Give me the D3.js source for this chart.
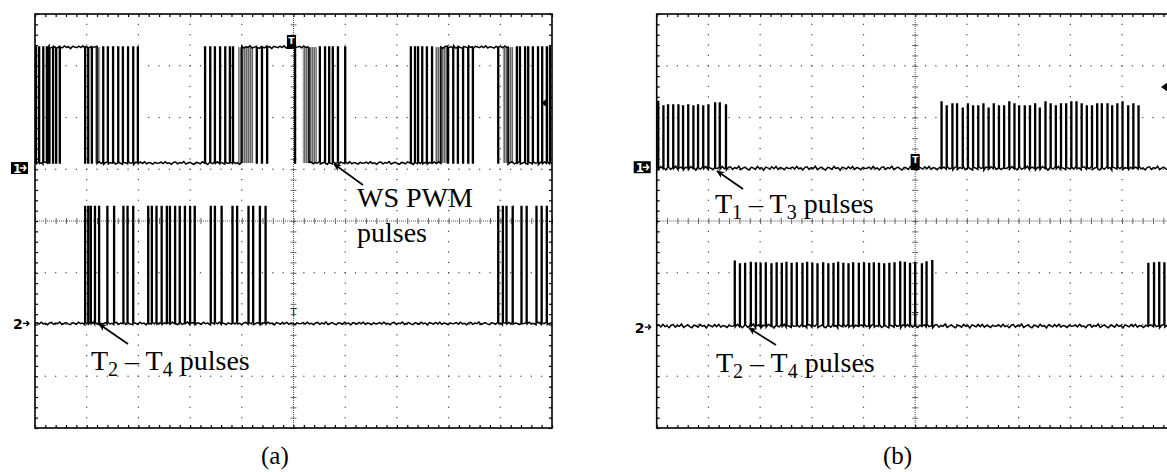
<!DOCTYPE html>
<html><head><meta charset="utf-8">
<script src="https://cdn.jsdelivr.net/npm/d3@7"></script>
<style>body{margin:0;background:#fff;}svg{display:block}</style>
</head><body>
<svg id="c" width="1167" height="472"></svg>
<script>
// ---------- DATA (time in divisions 0..10, level in divisions 0..8) ----------
// Panel (a): WS PWM pulses (channel 1)
const aWsPulses = [0.02,0.08,0.16,0.23,0.28,0.35,0.41,0.48,
  0.97,1.03,1.10,1.32,1.41,1.51,1.61,1.70,1.80,1.90,1.99,
  3.29,3.39,3.48,3.58,3.68,3.77,3.83,4.29,4.39,4.49,
  5.03,5.51,5.61,5.69,5.76,5.86,6.00,
  7.27,7.35,7.41,7.49,7.58,7.68,7.99,8.09,8.18,8.28,8.38,8.47,
  8.96,9.32,9.38,9.48,9.54,9.63,9.73,9.81,9.90,9.96];
const aWsHighSpans = [[0.25,1.2],[4.0,5.3],[7.85,9.15]];
const aWsDense = [[1.16,1.26],[3.93,4.22],[5.18,5.45],[7.74,7.97],[9.05,9.25]];
const aWsLow = 5.12, aWsHigh = 7.36;
// Panel (a): T2-T4 pulses (channel 2)
const aT24Pulses = [0.97,1.03,1.08,1.16,1.24,1.40,1.53,1.71,1.79,1.90,
  2.19,2.26,2.35,2.45,2.55,2.61,2.71,2.80,2.90,3.00,3.09,
  3.40,3.48,3.61,3.82,3.91,4.13,4.22,4.35,4.46,
  8.96,9.05,9.12,9.24,9.41,9.51,9.70,9.80,9.90];
const aT24Low = 2.02, aT24High = 4.28;
// Panel (b): T1-T3 pulses (channel 1)
const bT13Pulses = [0.03,0.13,0.22,0.32,0.42,0.51,0.61,0.71,0.80,0.90,1.00,1.13,1.22,1.34,
  5.51,5.61,5.72,5.81,5.92,6.02,6.12,6.22,6.32,6.42,6.52,6.62,6.72,6.82,6.92,7.01,7.12,7.22,7.32,7.41,
  7.52,7.62,7.72,7.82,7.92,8.02,8.12,8.22,8.32,8.42,8.52,8.61,8.72,8.81,8.91,9.01,9.12,9.22,9.32];
const bT13Tops = [6.31,6.22,6.24,6.24,6.24,6.22,6.24,6.22,6.24,6.22,6.24,6.28,6.28,6.24,
  6.30,6.22,6.26,6.26,6.18,6.26,6.22,6.22,6.26,6.18,6.26,6.22,6.22,6.30,6.26,6.22,6.22,6.22,6.26,6.18,
  6.30,6.26,6.22,6.26,6.26,6.30,6.30,6.26,6.22,6.22,6.26,6.26,6.26,6.22,6.26,6.30,6.22,6.26,6.22];
const bT13Low = 5.02;
// Panel (b): T2-T4 pulses (channel 2)
const bT24Pulses = [1.51,1.61,1.71,1.82,1.92,2.01,2.11,2.22,2.32,2.42,2.51,2.61,2.71,2.82,2.91,3.01,3.11,3.22,3.32,3.42,
  3.51,3.61,3.71,3.80,3.91,4.01,4.11,4.20,4.30,4.40,4.50,4.60,4.71,4.80,4.90,5.00,5.13,5.22,5.33,
  9.51,9.62,9.72,9.82];
const bT24Tops = [3.22,3.17,3.18,3.20,3.19,3.18,3.19,3.17,3.19,3.18,3.20,3.18,3.19,3.18,3.20,3.18,3.17,3.19,3.17,3.18,
  3.20,3.18,3.17,3.19,3.18,3.19,3.18,3.19,3.18,3.17,3.18,3.19,3.21,3.20,3.18,3.20,3.17,3.21,3.23,
  3.18,3.19,3.20,3.19];
const bT24Low = 1.97;
// baseline ripple (divisions), read as a rough texture
const ripple = [0,0.02,-0.015,0.03,-0.01,0.005,-0.03,0.015,0.025,-0.02,0.01,-0.005,0.035,-0.025,0,0.02,-0.01,
  -0.03,0.015,0.005,-0.02,0.03,-0.005,0.01,-0.035,0.02,0.005,-0.015,0.025,-0.01,0.03,-0.02,0.01,0,-0.025,0.015,-0.005];

// ---------- DRAWING ----------
const svg = d3.select('#c');
const defs = svg.append('defs');
defs.append('marker').attr('id','ah').attr('viewBox','0 0 10 10').attr('refX',9).attr('refY',5)
  .attr('markerWidth',10).attr('markerHeight',8).attr('markerUnits','userSpaceOnUse').attr('orient','auto')
  .append('path').attr('d','M0,0.5 L10,5 L0,9.5 L3,5 Z').attr('fill','#000');
const pat = defs.append('pattern').attr('id','dense').attr('patternUnits','userSpaceOnUse')
  .attr('width',2).attr('height',4);
pat.append('rect').attr('width',2).attr('height',4).attr('fill','#a0a0a0');
pat.append('rect').attr('width',1).attr('height',4).attr('fill','#666');

const DIVW = 51.7;
function makePanel(left){
  const x = d3.scaleLinear().domain([0,10]).range([left, left+10*DIVW]);
  const y = d3.scaleLinear().domain([0,8]).range([428,14]);
  const g = svg.append('g');
  return {x,y,g};
}

function drawGrid(p){
  const {x,y,g} = p;
  const minorX = d3.range(0,51).map(i=>i/5);
  const minorY = d3.range(0,41).map(i=>i/5);
  const dots = g.append('g').attr('fill','#444');
  for (let i=1;i<10;i++){ if(i===5) continue;
    minorY.forEach(v=>dots.append('rect').attr('x',x(i)-0.6).attr('y',y(v)-0.6).attr('width',1.2).attr('height',1.2)); }
  for (let j=1;j<8;j++){ if(j===4) continue;
    minorX.forEach(v=>dots.append('rect').attr('x',x(v)-0.6).attr('y',y(j)-0.6).attr('width',1.2).attr('height',1.2)); }
  g.append('line').attr('x1',x(5)).attr('x2',x(5)).attr('y1',y(8)).attr('y2',y(0))
    .attr('stroke','#555').attr('stroke-width',1).attr('stroke-dasharray','1,1');
  g.append('line').attr('x1',x(0)).attr('x2',x(10)).attr('y1',y(4)).attr('y2',y(4))
    .attr('stroke','#555').attr('stroke-width',1).attr('stroke-dasharray','1,1');
  g.append('g').attr('transform',`translate(0,${y(4)+3})`)
    .call(d3.axisTop(x).tickValues(minorX).tickSize(6).tickFormat(''))
    .call(a=>{a.select('.domain').remove(); a.selectAll('line').attr('stroke','#666');});
  g.append('g').attr('transform',`translate(${x(5)-3},0)`)
    .call(d3.axisRight(y).tickValues(minorY).tickSize(6).tickFormat(''))
    .call(a=>{a.select('.domain').remove(); a.selectAll('line').attr('stroke','#666');});
  const tk = (axis, tr) => g.append('g').attr('transform',tr).call(axis)
    .call(a=>{a.select('.domain').remove(); a.selectAll('line').attr('stroke','#000').attr('stroke-width',1.2);});
  tk(d3.axisBottom(x).tickValues(minorX).tickSize(3).tickFormat(''), `translate(0,${y(8)})`);
  tk(d3.axisTop(x).tickValues(minorX).tickSize(3).tickFormat(''), `translate(0,${y(0)})`);
  tk(d3.axisRight(y).tickValues(minorY).tickSize(3).tickFormat(''), `translate(${x(0)},0)`);
  tk(d3.axisLeft(y).tickValues(minorY).tickSize(3).tickFormat(''), `translate(${x(10)},0)`);
  g.append('rect').attr('x',x(0)).attr('y',y(8)).attr('width',x(10)-x(0)).attr('height',y(0)-y(8))
    .attr('fill','none').attr('stroke','#000').attr('stroke-width',1.6);
}

function buildTrace(pulses, tops, lo, hi, highSpans, w, rippleScale){
  const restHigh = t => highSpans.some(s=>t>=s[0] && t<s[1]);
  const set = new Set([0,10]);
  pulses.forEach(c=>{ set.add(+(c-w/2).toFixed(4)); set.add(+(c+w/2).toFixed(4)); });
  highSpans.forEach(s=>{ set.add(s[0]); set.add(s[1]); });
  const bs = [...set].filter(b=>b>=0 && b<=10).sort((a,b)=>a-b);
  const level = t => {
    const hr = restHigh(t);
    const pi = pulses.findIndex(c=>Math.abs(t-c) < w/2);
    if (pi<0) return {v: hr?hi:lo, flat:true};
    if (hr) return {v: lo, flat:false};
    return {v: tops ? tops[pi] : hi, flat:false};
  };
  const pts = []; let n = 0; const step = 0.04;
  const nz = () => ripple[(n++) % ripple.length]*rippleScale;
  for (let i=0;i<bs.length-1;i++){
    const a=bs[i], b=bs[i+1];
    if (b-a < 1e-6) continue;
    const L = level((a+b)/2);
    pts.push([a, L.v + (L.flat?nz():0)]);
    if (L.flat) for (let t=a+step; t<b-step/2; t+=step) pts.push([t, L.v+nz()]);
    pts.push([b, L.v + (L.flat?nz():0)]);
  }
  return pts;
}

function drawTrace(p, pts, sw){
  const line = d3.line().x(d=>p.x(d[0])).y(d=>p.y(d[1]));
  p.g.append('path').attr('d', line(pts)).attr('fill','none').attr('stroke','#000')
    .attr('stroke-width', sw).attr('stroke-linejoin','miter');
}

function chMarker(xr, yc, label, boxed){
  const g = svg.append('g');
  if (boxed){
    g.append('rect').attr('x',xr-18).attr('y',yc-6).attr('width',17).attr('height',12).attr('fill','#000');
    g.append('text').attr('x',xr-16).attr('y',yc+4.5).attr('font-family','DejaVu Sans').attr('font-weight','bold')
      .attr('font-size',12).attr('fill','#fff').text(label);
    g.append('path').attr('d',`M${xr-9},${yc} H${xr-3} M${xr-5.5},${yc-3} L${xr-3},${yc} L${xr-5.5},${yc+3}`)
      .attr('stroke','#fff').attr('stroke-width',1.5).attr('fill','none');
  } else {
    g.append('text').attr('x',xr-18).attr('y',yc+5.5).attr('font-family','DejaVu Sans').attr('font-weight','bold')
      .attr('font-size',14).attr('fill','#000').text(label);
    g.append('path').attr('d',`M${xr-8},${yc} H${xr-2} M${xr-4.5},${yc-2.5} L${xr-2},${yc} L${xr-4.5},${yc+2.5}`)
      .attr('stroke','#000').attr('stroke-width',1.3).attr('fill','none');
  }
}

function trigBox(cx, y0, y1){
  svg.append('rect').attr('x',cx-4.5).attr('y',y0).attr('width',9).attr('height',y1-y0).attr('fill','#000');
  svg.append('text').attr('x',cx).attr('y',y0+9).attr('text-anchor','middle').attr('font-family','DejaVu Sans')
    .attr('font-weight','bold').attr('font-size',9).attr('fill','#fff').text('T');
}
function trigSmall(cx, yb){
  svg.append('text').attr('x',cx).attr('y',yb).attr('text-anchor','middle').attr('font-family','DejaVu Sans')
    .attr('font-size',10).attr('fill','#222').text('T');
}
function levelArrow(xt, yc){
  svg.append('path').attr('d',`M${xt+7},${yc-5} L${xt},${yc} L${xt+7},${yc+5} Z`).attr('fill','#000');
}
const SERIF = 'Liberation Serif, Times New Roman, serif';
function subLabel(xs, yb, a, b){
  const t = svg.append('text').attr('x',xs).attr('y',yb).attr('font-family',SERIF)
    .attr('font-size',28).attr('fill','#000');
  t.append('tspan').text('T');
  t.append('tspan').attr('font-size',20).attr('dy',6).text(a);
  t.append('tspan').attr('dy',-6).text(' \u2013 T');
  t.append('tspan').attr('font-size',20).attr('dy',6).text(b);
  t.append('tspan').attr('dy',-6).text(' pulses');
}
function plainLabel(xs, yb, s, size){
  svg.append('text').attr('x',xs).attr('y',yb).attr('font-family',SERIF)
    .attr('font-size',size||28).attr('fill','#000').text(s);
}
function arrow(x1,y1,x2,y2){
  svg.append('line').attr('x1',x1).attr('y1',y1).attr('x2',x2).attr('y2',y2)
    .attr('stroke','#000').attr('stroke-width',1.7).attr('marker-end','url(#ah)');
}

// ----- Panel (a) -----
const pa = makePanel(35);
drawGrid(pa);
aWsDense.forEach(d=>pa.g.append('rect').attr('x',pa.x(d[0])).attr('width',pa.x(d[1])-pa.x(d[0]))
  .attr('y',pa.y(aWsHigh)).attr('height',pa.y(aWsLow)-pa.y(aWsHigh)).attr('fill','url(#dense)'));
drawTrace(pa, buildTrace(aWsPulses, null, aWsLow, aWsHigh, aWsHighSpans, 0.016, 0.8), 1.5);
drawTrace(pa, buildTrace(aT24Pulses, null, aT24Low, aT24High, [], 0.016, 0.8), 1.5);
chMarker(pa.x(0)-6, pa.y(aWsLow)+5, '1', true);
chMarker(pa.x(0)-4, pa.y(aT24Low), '2', false);
trigBox(pa.x(4.96), 35, 49);
trigSmall(pa.x(5), 316);
levelArrow(541, 103);
plainLabel(357, 207, 'WS PWM');
plainLabel(357, 242, 'pulses');
arrow(363, 185, 334, 164);
subLabel(91, 370, '2', '4');
arrow(128, 344, 99, 324);
plainLabel(261, 464, '(a)', 25);

// ----- Panel (b) -----
const pb = makePanel(656.7);
drawGrid(pb);
drawTrace(pb, buildTrace(bT13Pulses, bT13Tops, bT13Low, 6.25, [], 0.016, 1.1), 1.5);
drawTrace(pb, buildTrace(bT24Pulses, bT24Tops, bT24Low, 3.2, [], 0.016, 1.1), 1.5);
chMarker(pb.x(0)-5, pb.y(bT13Low)-1, '1', true);
chMarker(pb.x(0)-4, pb.y(bT24Low)+1, '2', false);
trigBox(pb.x(5), 154, 170);
trigSmall(pb.x(5), 320);
levelArrow(1161, 87);
subLabel(715, 213, '1', '3');
arrow(743, 189, 717, 171);
subLabel(716, 372, '2', '4');
arrow(776, 345, 749, 328);
plainLabel(883, 464, '(b)', 25);
</script>
</body></html>
